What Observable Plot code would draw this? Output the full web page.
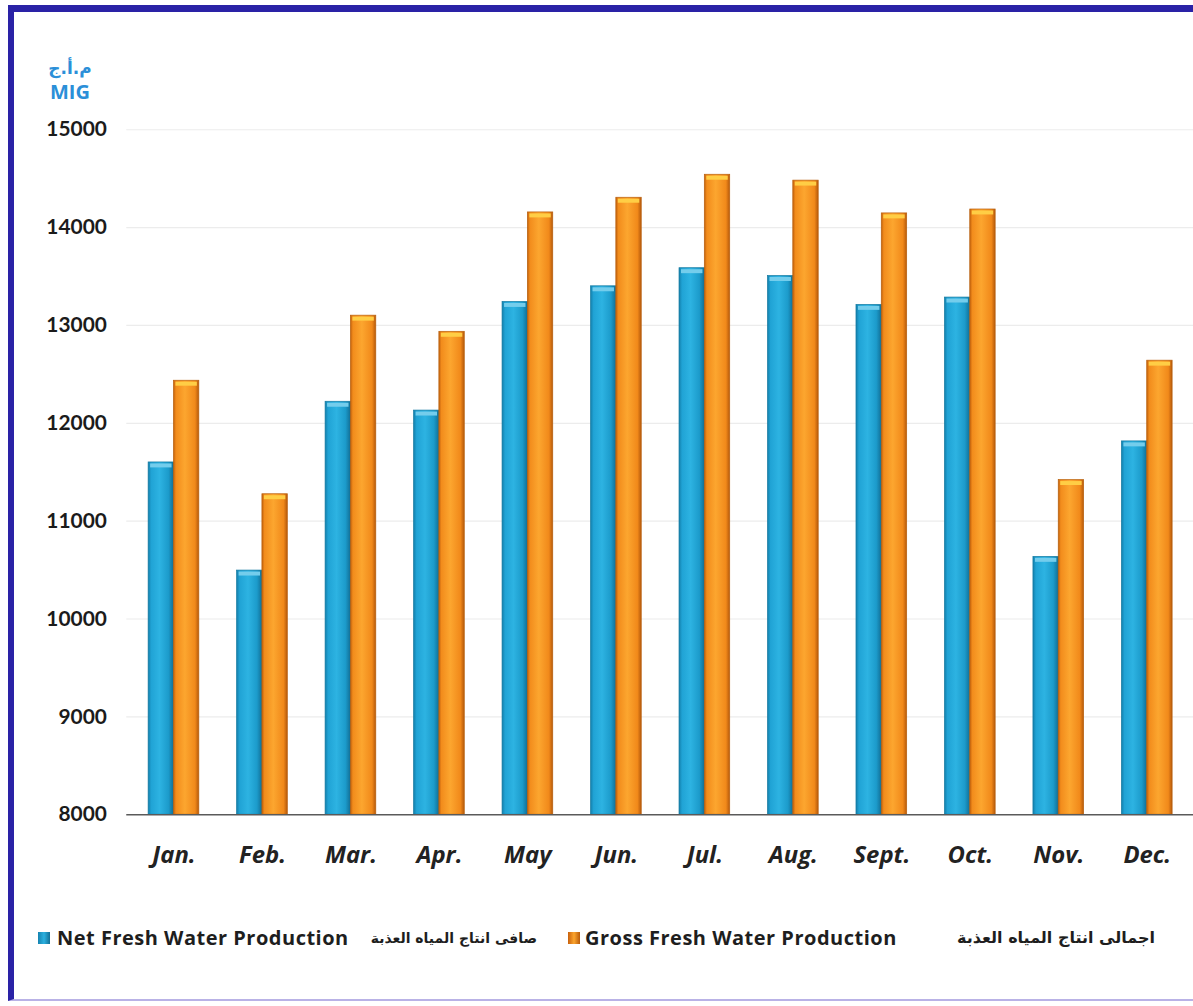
<!DOCTYPE html>
<html>
<head>
<meta charset="utf-8">
<script src="https://cdn.jsdelivr.net/npm/d3@7"></script>
<script src="https://cdn.jsdelivr.net/npm/@observablehq/plot@0.6"></script>
<style>
  html, body { margin: 0; padding: 0; background: #fff; }
  body { width: 1193px; height: 1006px; overflow: hidden; position: relative; }
  #frame { position: absolute; left: 8px; top: 5px; width: 1300px; height: 996px;
           border-left: 6px solid #2a22a6; border-top: 7px solid #2a22a6; border-bottom: 2px solid #b9b2e6; box-sizing: border-box; }
  #chart { position: absolute; left: 0; top: 0; }
  #units { position: absolute; left: 30px; top: 56px; width: 80px; text-align: center; color: #2b8fd8;
           font-family: "Open Sans", sans-serif; font-weight: 700; line-height: 24px; }
  #units .ar { font-family: "DejaVu Sans", sans-serif; font-size: 17px; }
  #units .en { font-size: 20px; }
  .lg { position: absolute; top: 926px; white-space: nowrap; font-weight: 700; color: #1e1e1e; line-height: 24px; }
  .lg.en { font-family: "Open Sans", sans-serif; font-size: 20px; letter-spacing: 0.5px; }
  .lg.ar { font-family: "DejaVu Sans", sans-serif; direction: rtl; }
  .mk { position: absolute; top: 932px; width: 12px; height: 12px; }
  svg g[aria-label^="y-axis"] text { font-family: Lato, sans-serif; font-weight: 700; font-size: 21px; fill: #1b1b1b; }
  svg g[aria-label^="x-axis"] text { font-family: "Open Sans", sans-serif; font-weight: 700; font-style: italic; font-size: 24px; fill: #222; }
</style>
</head>
<body>
<div id="frame"></div>
<div id="chart"></div>
<div id="units"><div class="ar">م.أ.ج</div><div class="en">MIG</div></div>
<div class="mk" style="left:38px;background:linear-gradient(90deg,#1583b0,#2cb0df,#126f96);"></div>
<div class="lg en" style="left:57px;">Net Fresh Water Production</div>
<div class="lg ar" style="right:656px;font-size:14px;">صافى انتاج المياه العذبة</div>
<div class="mk" style="left:568px;background:linear-gradient(90deg,#c8600c,#fba52e,#b85a0a);"></div>
<div class="lg en" style="left:585px;">Gross Fresh Water Production</div>
<div class="lg ar" style="right:38px;font-size:16px;">اجمالى انتاج المياه العذبة</div>
<script>
const months = ["Jan.", "Feb.", "Mar.", "Apr.", "May", "Jun.", "Jul.", "Aug.", "Sept.", "Oct.", "Nov.", "Dec."];
const netProduction   = [11600, 10495, 12220, 12130, 13240, 13400, 13585, 13505, 13210, 13285, 10635, 11815];
const grossProduction = [12435, 11275, 13100, 12935, 14155, 14305, 14540, 14480, 14145, 14185, 11420, 12640];
const yTicks = [8000, 9000, 10000, 11000, 12000, 13000, 14000, 15000];

const rows = months.map((m, i) => ({month: m, net: netProduction[i], gross: grossProduction[i]}));

const W = 1200, H = 900, mL = 127, mR = 0, mT = 130, mB = 81;
const pIn = 0.43, pOut = 0.224;
const bw = d3.scaleBand().domain(months).range([mL, W - mR]).paddingInner(pIn).paddingOuter(pOut).bandwidth();
const half = bw / 2;

const chart = Plot.plot({
  width: W, height: H,
  marginLeft: mL, marginRight: mR, marginTop: mT, marginBottom: mB,
  style: {background: "transparent", overflow: "visible"},
  x: {domain: months, paddingInner: pIn, paddingOuter: pOut, label: null, tickSize: 0, tickPadding: 32},
  y: {domain: [8000, 15000], ticks: yTicks, tickFormat: d => String(d), label: null, tickSize: 0, tickPadding: 20},
  marks: [
    Plot.ruleY(yTicks.filter(t => t > 8000), {stroke: "#ececec", strokeWidth: 1.2}),
    Plot.barY(rows, {x: "month", y1: 8000, y2: "net", insetRight: half, fill: "url(#gBlue)", stroke: "#1479a0", strokeWidth: 0.7}),
    Plot.barY(rows, {x: "month", y1: 8000, y2: "gross", insetLeft: half, fill: "url(#gOrange)", stroke: "#b8600e", strokeWidth: 0.7}),
    Plot.tickY(rows, {x: "month", y: "net", insetRight: half + 2, insetLeft: 2, stroke: "#74cdec", strokeWidth: 4, dy: 3}),
    Plot.tickY(rows, {x: "month", y: "gross", insetLeft: half + 2, insetRight: 2, stroke: "#ffce45", strokeWidth: 4, dy: 3}),
    Plot.ruleY([8000], {stroke: "#5a5a5a", strokeWidth: 1.6})
  ]
});

const svg = d3.select(chart);
const defs = svg.insert("defs", ":first-child");
function grad(id, stops) {
  const g = defs.append("linearGradient").attr("id", id).attr("x1", "0%").attr("x2", "100%").attr("y1", "0%").attr("y2", "0%");
  stops.forEach(([o, c]) => g.append("stop").attr("offset", o).attr("stop-color", c));
}
grad("gBlue", [["0%", "#137fab"], ["12%", "#20a3d5"], ["45%", "#2db3e2"], ["80%", "#1c9bcb"], ["100%", "#116e95"]]);
grad("gOrange", [["0%", "#c1600c"], ["10%", "#f28c1c"], ["45%", "#fca62f"], ["85%", "#f1891a"], ["100%", "#b5590b"]]);

document.getElementById("chart").appendChild(chart);
</script>
</body>
</html>
